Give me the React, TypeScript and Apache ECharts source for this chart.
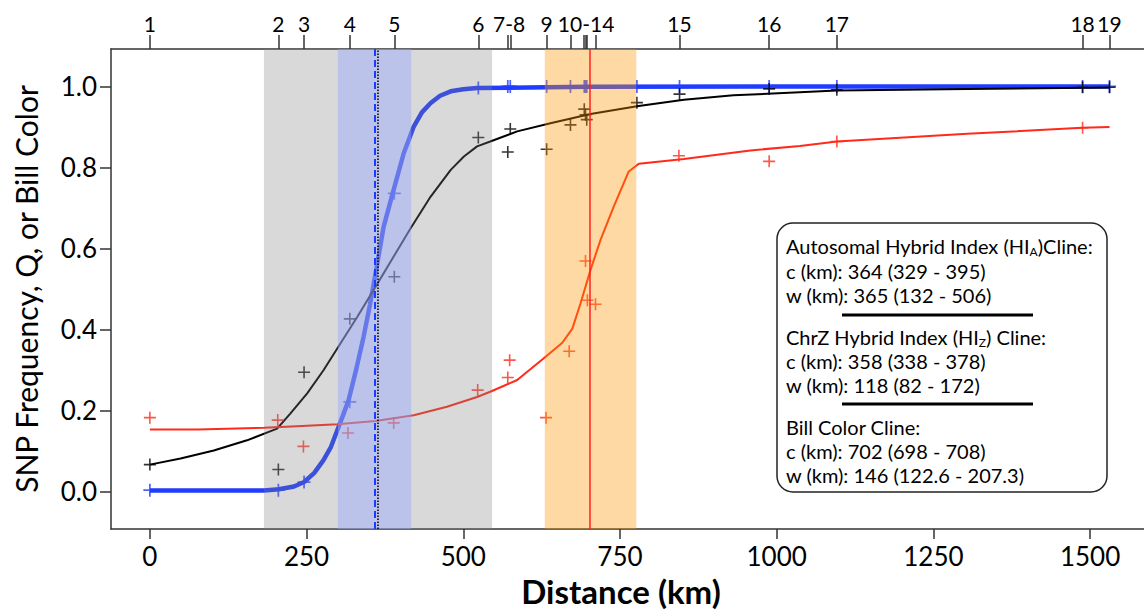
import React, { useEffect, useRef } from "react";
import * as echarts from "echarts";

// ---------- data ----------
const xRange = [-62, 1586];
const yRange = [-0.093, 1.0925];

const bottomTicks = [0, 250, 500, 750, 1000, 1250, 1500];
const leftTicks = [0, 0.2, 0.4, 0.6, 0.8, 1.0];

// population positions along the transect (top axis)
const popTicks = [0, 205, 246, 319, 390, 524, 571, 575, 633, 671, 693, 695, 697, 711, 845, 988, 1096, 1488, 1531];
const popLabelPos = [0, 205, 246, 319, 390, 524, 573, 633, 696, 845, 988, 1096, 1488, 1531];
const popLabels = ["1", "2", "3", "4", "5", "6", "7-8", "9", "10-14", "15", "16", "17", "18", "19"];

// cline centre / width bands (km)
const bandHIA = [182, 546];
const bandChrZ = [300, 417];
const bandBill = [630, 776];
const centreChrZ = 358;
const centreHIA = 364;
const centreBill = 702;

// fitted cline curves
const chrZCurveX = [0, 182, 206, 230, 246, 262, 277, 289, 299, 308, 317, 329, 341, 351, 360, 373, 389, 405, 421, 434, 448, 463, 480, 500, 522, 700, 1000, 1531];
const chrZCurveY = [0.002, 0.002, 0.005, 0.012, 0.023, 0.045, 0.077, 0.11, 0.151, 0.187, 0.225, 0.3, 0.382, 0.46, 0.538, 0.654, 0.745, 0.835, 0.901, 0.936, 0.959, 0.977, 0.988, 0.993, 0.996, 0.999, 1.0, 1.0];

const hiaCurveX = [0, 49, 102, 155, 203, 224, 251, 277, 304, 331, 360, 389, 416, 448, 480, 501, 522, 543, 586, 639, 703, 777, 852, 931, 1011, 1096, 1304, 1531];
const hiaCurveY = [0.066, 0.081, 0.101, 0.126, 0.155, 0.192, 0.242, 0.299, 0.365, 0.431, 0.505, 0.58, 0.65, 0.728, 0.794, 0.827, 0.852, 0.864, 0.889, 0.909, 0.932, 0.951, 0.967, 0.978, 0.984, 0.99, 0.9935, 0.9975];

const billCurveX = [0, 76, 182, 235, 299, 360, 421, 474, 522, 543, 586, 628, 658, 674, 687, 703, 719, 740, 764, 780, 852, 958, 1037, 1096, 1304, 1487, 1531];
const billCurveY = [0.153, 0.153, 0.157, 0.161, 0.166, 0.174, 0.188, 0.209, 0.233, 0.246, 0.275, 0.328, 0.367, 0.402, 0.464, 0.547, 0.621, 0.703, 0.79, 0.809, 0.821, 0.842, 0.853, 0.864, 0.883, 0.898, 0.9];

// observed population values
const snpX = [0, 205, 246, 319, 390, 524, 571, 575, 633, 671, 693, 695, 697, 777, 845, 988, 1096, 1488, 1531];
const chrZObs = [0.003, 0.003, 0.023, 0.221, 0.736, 0.996, 1, 1, 1, 1, 1, 1, 1, 1, 1, 1, 1, 1, 1];
const hiaObs = [0.066, 0.054, 0.294, 0.426, 0.53, 0.874, 0.838, 0.895, 0.845, 0.905, 0.944, 0.93, 0.918, 0.96, 0.981, 0.994, 0.992, 0.998, 0.998];
const billX = [0, 204, 245, 316, 389, 523, 571, 574, 632, 669, 695, 698, 711, 844, 988, 1096, 1488];
const billObs = [0.182, 0.176, 0.111, 0.144, 0.169, 0.25, 0.281, 0.324, 0.182, 0.346, 0.569, 0.472, 0.462, 0.829, 0.815, 0.864, 0.898];

// ---------- styling ----------
const FONT = "Lato, 'Noto Sans', sans-serif";
const BLUE = "#1f3cff";
const RED = "#ff2a1a";
const BLACK = "#000000";
const AXIS = "#333333";
const CROSS = "path://M5.2,0 H6.8 V5.2 H12 V6.8 H6.8 V12 H5.2 V6.8 H0 V5.2 H5.2 Z";

const zip = (xs: number[], ys: number[]) => xs.map((x, i) => [x, ys[i]]);

function buildOption() {
  const labelMap: Record<number, string> = {};
  popLabelPos.forEach((p, i) => (labelMap[p] = popLabels[i]));

  const lineSeries = (name: string, xs: number[], ys: number[], color: string, width: number) => ({
    name,
    type: "line",
    data: zip(xs, ys),
    showSymbol: false,
    smooth: false,
    lineStyle: { color, width },
    z: 2,
    silent: true,
  });
  const crossSeries = (name: string, xs: number[], ys: number[], color: string, size: number) => ({
    name,
    type: "scatter",
    data: zip(xs, ys),
    symbol: CROSS,
    symbolSize: size,
    itemStyle: { color },
    z: 3,
    silent: true,
  });

  const legendX = 786;
  const legendLines: { y: number; text: string }[] = [
    { y: 246, text: "{n|Autosomal Hybrid Index (HI}{s|A}{n|)Cline:}" },
    { y: 271, text: "{n|c (km): 364 (329 - 395)}" },
    { y: 295, text: "{n|w (km): 365 (132 - 506)}" },
    { y: 337, text: "{n|ChrZ Hybrid Index (HI}{s|Z}{n|) Cline:}" },
    { y: 361, text: "{n|c (km): 358 (338 - 378)}" },
    { y: 385, text: "{n|w (km): 118 (82 - 172)}" },
    { y: 427, text: "{n|Bill Color Cline:}" },
    { y: 451, text: "{n|c (km): 702 (698 - 708)}" },
    { y: 475, text: "{n|w (km): 146 (122.6 - 207.3)}" },
  ];

  return {
    animation: false,
    backgroundColor: "#ffffff",
    textStyle: { fontFamily: FONT },
    grid: { left: 111, top: 49, right: 0, bottom: 82, containLabel: false, outerBoundsMode: "none" },
    xAxis: [
      {
        type: "value",
        position: "bottom",
        min: xRange[0],
        max: xRange[1],
        axisLine: { show: true, onZero: false, lineStyle: { color: AXIS, width: 1.5 } },
        axisTick: { show: true, customValues: bottomTicks, length: 10, lineStyle: { color: AXIS, width: 1.5 } },
        axisLabel: {
          customValues: bottomTicks,
          formatter: (v: number) => String(Math.round(v)),
          fontSize: 26,
          color: "#000",
          margin: 14,
          fontFamily: FONT,
        },
        splitLine: { show: false },
      },
      {
        type: "value",
        position: "top",
        min: xRange[0],
        max: xRange[1],
        axisLine: { show: true, onZero: false, lineStyle: { color: AXIS, width: 1.5 } },
        axisTick: { show: true, customValues: popTicks, length: 14, lineStyle: { color: AXIS, width: 1.5 } },
        axisLabel: {
          customValues: popLabelPos,
          formatter: (v: number) => labelMap[Math.round(v)] ?? "",
          fontSize: 21,
          color: "#000",
          margin: 15,
          fontFamily: FONT,
        },
        splitLine: { show: false },
      },
    ],
    yAxis: {
      type: "value",
      min: yRange[0],
      max: yRange[1],
      axisLine: { show: true, onZero: false, lineStyle: { color: AXIS, width: 1.5 } },
      axisTick: { show: true, customValues: leftTicks, length: 11, lineStyle: { color: AXIS, width: 1.5 } },
      axisLabel: {
        customValues: leftTicks,
        formatter: (v: number) => v.toFixed(1),
        fontSize: 26,
        color: "#000",
        margin: 14,
        fontFamily: FONT,
      },
      splitLine: { show: false },
      name: "SNP Frequency, Q, or Bill Color",
      nameLocation: "middle",
      nameGap: 70,
      nameTextStyle: { fontSize: 30, color: "#000", fontFamily: FONT },
    },
    series: [
      lineSeries("ChrZ cline", chrZCurveX, chrZCurveY, BLUE, 4.5),
      lineSeries("HI_A cline", hiaCurveX, hiaCurveY, BLACK, 2),
      lineSeries("Bill cline", billCurveX, billCurveY, RED, 2),
      crossSeries("ChrZ obs", snpX, chrZObs, BLUE, 13),
      crossSeries("HI_A obs", snpX, hiaObs, BLACK, 12),
      crossSeries("Bill obs", billX, billObs, RED, 12),
      {
        name: "bands",
        type: "line",
        data: [],
        z: 5,
        silent: true,
        markArea: {
          silent: true,
          z: 5,
          data: [
            [{ xAxis: bandHIA[0], itemStyle: { color: "rgba(128,128,128,0.3)" } }, { xAxis: bandHIA[1] }],
            [{ xAxis: bandChrZ[0], itemStyle: { color: "rgba(152,168,255,0.45)" } }, { xAxis: bandChrZ[1] }],
            [{ xAxis: bandBill[0], itemStyle: { color: "rgba(255,150,0,0.36)" } }, { xAxis: bandBill[1] }],
          ],
        },
      },
      {
        name: "centres",
        type: "line",
        data: [],
        z: 6,
        silent: true,
        markLine: {
          silent: true,
          z: 6,
          symbol: ["none", "none"],
          label: { show: false },
          data: [
            { xAxis: centreChrZ, lineStyle: { color: "#1a3cff", type: [7, 4], width: 2 } },
            { xAxis: centreHIA, lineStyle: { color: "#000", type: [1.5, 1.5], width: 1.5 } },
            { xAxis: centreBill, lineStyle: { color: "#ff2020", type: "solid", width: 1.5 } },
          ],
        },
      },
    ],
    graphic: [
      {
        type: "text",
        x: 621,
        y: 591,
        style: {
          text: "Distance (km)",
          fontSize: 33,
          fontWeight: "bold",
          fontFamily: FONT,
          fill: "#000",
          align: "center",
          verticalAlign: "middle",
        },
        z: 10,
      },
      {
        type: "rect",
        shape: { x: 777, y: 223, width: 330, height: 269, r: 16 },
        style: { fill: "#ffffff", stroke: "#222", lineWidth: 1.5 },
        z: 10,
      },
      {
        type: "line",
        shape: { x1: 842, y1: 315, x2: 1033, y2: 315 },
        style: { stroke: "#000", lineWidth: 3 },
        z: 11,
      },
      {
        type: "line",
        shape: { x1: 842, y1: 404, x2: 1033, y2: 404 },
        style: { stroke: "#000", lineWidth: 3 },
        z: 11,
      },
      ...legendLines.map((l) => ({
        type: "text",
        x: legendX,
        y: l.y,
        z: 11,
        style: {
          text: l.text,
          fill: "#000",
          align: "left",
          verticalAlign: "middle",
          fontFamily: FONT,
          rich: {
            n: { fontSize: 20, fontFamily: FONT, fill: "#000", color: "#000" },
            s: { fontSize: 12, fontFamily: FONT, fill: "#000", color: "#000", padding: [10, 0, 0, 0] },
          },
        },
      })),
    ],
  };
}

export default function App() {
  const ref = useRef<HTMLDivElement>(null);
  useEffect(() => {
    if (!ref.current) return;
    const chart = echarts.init(ref.current, null, { renderer: "svg" });
    chart.setOption(buildOption() as any);
    return () => chart.dispose();
  }, []);
  return (
    <div
      ref={ref}
      style={{ position: "fixed", left: 0, top: 0, width: 1144, height: 611, background: "#fff" }}
    />
  );
}
